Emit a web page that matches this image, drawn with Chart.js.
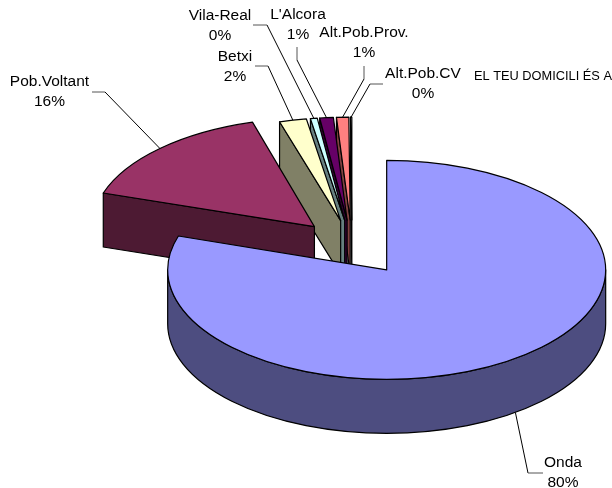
<!DOCTYPE html>
<html>
<head>
<meta charset="utf-8">
<style>html,body{margin:0;padding:0;background:#fff}#w{width:612px;height:488px;position:relative}</style>
<script src="https://cdn.jsdelivr.net/npm/chart.js@4"></script>
</head>
<body>
<div id="w"><canvas id="c" width="612" height="488"></canvas></div>
<script>
const categories = ["Onda","Pob.Voltant","Betxi","Vila-Real","L'Alcora","Alt.Pob.Prov.","Alt.Pob.CV"];
const shares = [80, 15.5, 2, 0.5, 1, 0.9, 0.1];
const percentLabels = ["80%","16%","2%","0%","1%","1%","0%"];
const topColors = ["#9999FF","#993366","#FFFFCC","#CCFFFF","#660066","#FF8080","#FFFFFF"];
const sideColors = ["#4D4D80","#4D1A33","#808066","#668080","#330033","#804040","#808080"];
const explode = [59,54,52,52,52,52,52];
const squash = [0.5,0.49,0.47,0.47,0.47,0.47,0.47];
const radii = [219,222,219,219,219,219,219];
const title = "EL TEU DOMICILI ÉS A";

// label layout: centre x, first-line centre y
const labelPos = [[563,463],[49.5,82],[235,57],[220,16],[298,15],[364,33],[423,74]];
// leader elbow points: [elbow, end at label]
const leaders = [[[528,473],[543,473]],[[105,92],[92,92]],[[268,66],[255,66]],[[267,25],[253,25]],[[297,60],[297,47]],[[364,79],[364,66]],[[370,84],[383,84]]];

const DEPTH = 54, CX = 352, CY = 246;

const pie3d = {
  id:'pie3d',
  beforeDatasetsDraw(chart){
    const ctx = chart.ctx, arcs = chart.getDatasetMeta(0).data;
    const geo = arcs.map((a,i)=>{
      const mid=(a.startAngle+a.endAngle)/2, off=explode[i];
      return {s:a.startAngle,e:a.endAngle,r:a.outerRadius*radii[i]/radii[0],mid,q:squash[i],
        x:a.x+Math.cos(mid)*off, y:a.y+Math.sin(mid)*off*0.5};
    });
    const pt=(g,ang,d=0)=>[g.x+Math.cos(ang)*g.r, g.y+Math.sin(ang)*g.r*g.q+d];
    const ell=(g,a,b,d,ccw)=>ctx.ellipse(g.x,g.y+d,g.r,g.r*g.q,0,a,b,ccw);
    ctx.save();
    ctx.lineWidth=1.2; ctx.strokeStyle='#000'; ctx.lineJoin='round';
    for(let i=arcs.length-1;i>=0;i--){
      const g=geo[i];
      ctx.fillStyle=sideColors[i];
      [[g.s,Math.cos(g.s)<0],[g.e,Math.cos(g.e)>0]].forEach(([ang,vis])=>{
        if(!vis) return;
        const p=pt(g,ang);
        ctx.beginPath();
        ctx.moveTo(g.x,g.y);ctx.lineTo(p[0],p[1]);ctx.lineTo(p[0],p[1]+DEPTH);ctx.lineTo(g.x,g.y+DEPTH);ctx.closePath();
        ctx.fill();ctx.stroke();
      });
      // outer wall: the part of the arc facing the viewer
      const a=Math.max(g.s,0), b=Math.min(g.e,Math.PI);
      if(b>a){
        ctx.beginPath();ell(g,a,b,0,false);ell(g,b,a,DEPTH,true);ctx.closePath();
        ctx.fill();ctx.stroke();
      }
      ctx.fillStyle=topColors[i];
      ctx.beginPath();ctx.moveTo(g.x,g.y);ell(g,g.s,g.e,0,false);ctx.closePath();
      ctx.fill();ctx.stroke();
    }
    // leaders
    geo.forEach((g,i)=>{
      const a=pt(g,g.mid,i===0?DEPTH:0), L=leaders[i];
      ctx.strokeStyle='#000';ctx.lineWidth=1;
      ctx.beginPath();ctx.moveTo(a[0],a[1]);ctx.lineTo(L[0][0],L[0][1]);ctx.stroke();
      ctx.strokeStyle='#555';
      ctx.beginPath();ctx.moveTo(L[0][0],L[0][1]);ctx.lineTo(L[1][0],L[1][1]);ctx.stroke();
    });
    // text
    ctx.fillStyle='#000';ctx.textAlign='center';ctx.textBaseline='middle';
    ctx.font='15.5px "Liberation Sans", Arial, sans-serif';
    categories.forEach((t,i)=>{
      ctx.fillText(t,labelPos[i][0],labelPos[i][1]);
      ctx.fillText(percentLabels[i],labelPos[i][0],labelPos[i][1]+19.5);
    });
    ctx.textAlign='left';
    ctx.font='12.8px "Liberation Sans", Arial, sans-serif';
    ctx.fillText(title,474,76);
    ctx.restore();
    return false;
  }
};

new Chart(document.getElementById('c'),{
  type:'pie',
  data:{labels:categories,datasets:[{data:shares,backgroundColor:topColors,borderColor:'#000',borderWidth:1}]},
  options:{
    responsive:false,animation:false,radius:219,rotation:0,
    layout:{padding:{left:2*CX-612,top:2*CY-488,bottom:0}},
    plugins:{legend:{display:false},tooltip:{enabled:false},title:{display:false}}
  },
  plugins:[pie3d]
});
</script>
</body>
</html>
